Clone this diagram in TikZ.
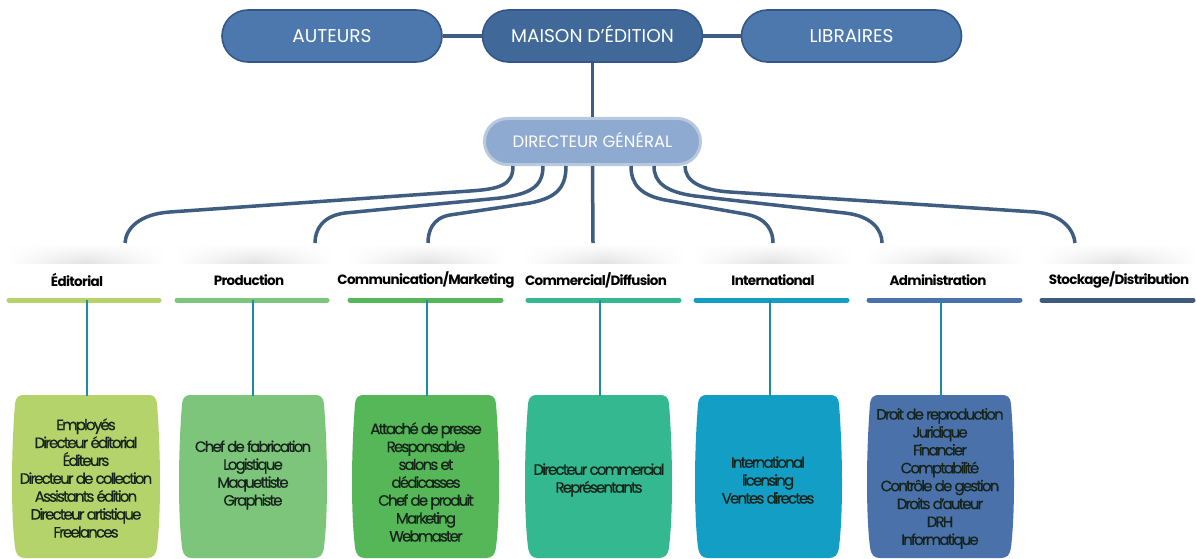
\documentclass[tikz,border=0pt]{standalone}
\usepackage{fontspec}
\setmainfont{Poppins}
\usetikzlibrary{fadings}
\definecolor{topfill}{HTML}{4D78AE}
\definecolor{topdark}{HTML}{40699A}
\definecolor{topborder}{HTML}{34578A}
\definecolor{linecol}{HTML}{3F5D80}
\definecolor{dirfill}{HTML}{8EAAD0}
\definecolor{dirborder}{HTML}{B7C8DF}
\definecolor{cA}{HTML}{B4D36B}
\definecolor{cB}{HTML}{7EC57C}
\definecolor{cC}{HTML}{55B757}
\definecolor{cD}{HTML}{33B890}
\definecolor{cE}{HTML}{139FC5}
\definecolor{cF}{HTML}{4A71A9}
\definecolor{cG}{HTML}{3E5A7C}
\definecolor{vcol}{HTML}{1C8CA3}
\definecolor{txtcol}{HTML}{15231A}
\tikzfading[name=hfade, left color=transparent!100, right color=transparent!100, middle color=transparent!0]
\tikzset{
  pill/.style={draw=topborder, line width=1.6pt, fill=topfill, rounded corners=26pt,
    minimum width=220pt, minimum height=52pt, text=white, text height=13pt, text depth=0pt,
    font=\fontsize{18.5}{20}\selectfont},
  dirpill/.style={draw=dirborder, line width=3pt, fill=dirfill, rounded corners=23pt,
    minimum width=216pt, minimum height=46pt, text=white, text height=11pt, text depth=0pt,
    font=\fontsize{16.5}{18}\selectfont},
  topconn/.style={draw=linecol, line width=4pt},
  branch/.style={draw=linecol, line width=3.5pt},
  header/.style={text=black, font=\bfseries\fontsize{13.5}{16}\selectfont\addfontfeatures{LetterSpace=-5}, anchor=center},
  bar/.style={line width=5pt, line cap=round},
  vconn/.style={draw=vcol, line width=2.6pt},
  boxtext/.style={text=txtcol, align=center, font=\fontsize{15}{17.9}\selectfont\addfontfeatures{LetterSpace=-12,FakeBold=0.4}},
  shadow/.style={top color=white, bottom color=black!11, path fading=hfade}
}
\newcommand{\barrel}[4]{% x1 x2 color top
  \fill[#3] (#1+12,#4) -- (#2-12,#4) .. controls (#2-5,#4) and (#2-3,#4+2) .. (#2-2,#4+9)
    .. controls (#2+2,#4+60) and (#2+2,#4+120) .. (#2-2,#4+152)
    .. controls (#2-3,#4+160) and (#2-6,#4+163) .. (#2-12,#4+163)
    -- (#1+12,#4+163) .. controls (#1+6,#4+163) and (#1+3,#4+160) .. (#1+2,#4+152)
    .. controls (#1-2,#4+120) and (#1-2,#4+60) .. (#1+2,#4+9)
    .. controls (#1+3,#4+2) and (#1+5,#4) .. (#1+12,#4) -- cycle;}
\begin{document}
\begin{tikzpicture}[x=1pt,y=-1pt]
\useasboundingbox (0,0) rectangle (1196,559);
\fill[white] (0,0) rectangle (1196,559);

% top row
\node[pill] (auteurs) at (332,36) {AUTEURS};
\node[pill, fill=topdark] (maison) at (592.5,36) {MAISON D'ÉDITION};
\node[pill] (libraires) at (851.5,36) {LIBRAIRES};
\draw[topconn] (auteurs.east) -- (maison.west);
\draw[topconn] (maison.east) -- (libraires.west);

\node[dirpill] (dir) at (592.5,141.5) {DIRECTEUR GÉNÉRAL};
\draw[topconn, line width=3pt] (maison.south) -- (dir.north);

% shadows above header cards
\foreach \a/\b in {10/162,178/330,350/504,525/682,695/850,868/1023,1040/1195}{
  \shade[shadow] (\a,244) rectangle (\b,263);
}

% headers
\node[header] (h1) at (77,280) {Éditorial};
\node[header] (h2) at (249,280) {Production};
\node[header] (h3) at (426,280) {Communication/Marketing};
\node[header] (h4) at (596,280) {Commercial/Diffusion};
\node[header] (h5) at (773,280) {International};
\node[header] (h6) at (938,280) {Administration};
\node[header] (h7) at (1119,280) {Stockage/Distribution};

% curve ends
\coordinate (e1) at (125,243);
\coordinate (e2) at (315,243);
\coordinate (e3) at (428,243);
\coordinate (e4) at (593,243);
\coordinate (e5) at (773,243);
\coordinate (e6) at (882,243);
\coordinate (e7) at (1075,243);

\draw[branch] ([xshift=-79.5pt]dir.south) .. controls +(0,19) and (500,189) .. (470,191) -- (170,212) .. controls (140,214) and (126,228) .. (e1);
\draw[branch] ([xshift=-49.5pt]dir.south) .. controls +(0,21) and (530,194) .. (500,198) -- (345,213) .. controls (322,216) and (315,230) .. (e2);
\draw[branch] ([xshift=-26.5pt]dir.south) .. controls +(0,23) and (555,198) .. (530,203) -- (450,215) .. controls (432,218) and (428,232) .. (e3);
\draw[branch] (dir.south) -- (e4);
\draw[branch] ([xshift=38.5pt]dir.south) .. controls +(0,18) and (640,195) .. (665,200) -- (745,214) .. controls (768,218) and (773,232) .. (e5);
\draw[branch] ([xshift=61.5pt]dir.south) .. controls +(0,16) and (665,192) .. (695,196) -- (845,213) .. controls (872,216) and (882,230) .. (e6);
\draw[branch] ([xshift=92.5pt]dir.south) .. controls +(0,15) and (700,190) .. (730,192) -- (1035,212) .. controls (1062,214) and (1074,230) .. (e7);

% bars
\coordinate (bar1) at (87,300);
\coordinate (bar2) at (253,300);
\coordinate (bar3) at (427,300);
\coordinate (bar4) at (600,300);
\coordinate (bar5) at (770,300);
\coordinate (bar6) at (941,300);
\draw[bar, cA] (9,300) -- (159,300);
\draw[bar, cB] (177,300) -- (327,300);
\draw[bar, cC] (350,300) -- (501,300);
\draw[bar, cD] (528,300) -- (679,300);
\draw[bar, cE] (696,300) -- (847,300);
\draw[bar, cF] (869,300) -- (1020,300);
\draw[bar, cG] (1042,300) -- (1193,300);

% boxes
\barrel{13}{159}{cA}{395}
\barrel{180}{326}{cB}{395}
\barrel{353}{498}{cC}{395}
\barrel{526}{671}{cD}{395}
\barrel{696}{841}{cE}{395}
\barrel{868}{1013}{cF}{395}

\coordinate (t1) at (87,396);
\coordinate (t2) at (253,396);
\coordinate (t3) at (427,396);
\coordinate (t4) at (600,396);
\coordinate (t5) at (770,396);
\coordinate (t6) at (941,396);
\draw[vconn] (bar1) -- (t1);
\draw[vconn] (bar2) -- (t2);
\draw[vconn] (bar3) -- (t3);
\draw[vconn] (bar4) -- (t4);
\draw[vconn] (bar5) -- (t5);
\draw[vconn] (bar6) -- (t6);

\node[boxtext] (b1) at (86,478) {Employés\\Directeur éditorial\\Éditeurs\\Directeur de collection\\Assistants édition\\Directeur artistique\\Freelances};
\node[boxtext] (b2) at (253,475) {Chef de fabrication\\Logistique\\Maquettiste\\Graphiste};
\node[boxtext] (b3) at (426,482) {Attaché de presse\\Responsable\\salons et\\dédicasses\\Chef de produit\\Marketing\\Webmaster};
\node[boxtext] (b4) at (599,480) {Directeur commercial\\Représentants};
\node[boxtext] (b5) at (768,480) {International\\licensing\\Ventes directes};
\node[boxtext] (b6) at (940,478.5) {Droit de reproduction\\Juridique\\Financier\\Comptabilité\\Contrôle de gestion\\Droits d'auteur\\DRH\\Informatique};
\end{tikzpicture}
\end{document}
